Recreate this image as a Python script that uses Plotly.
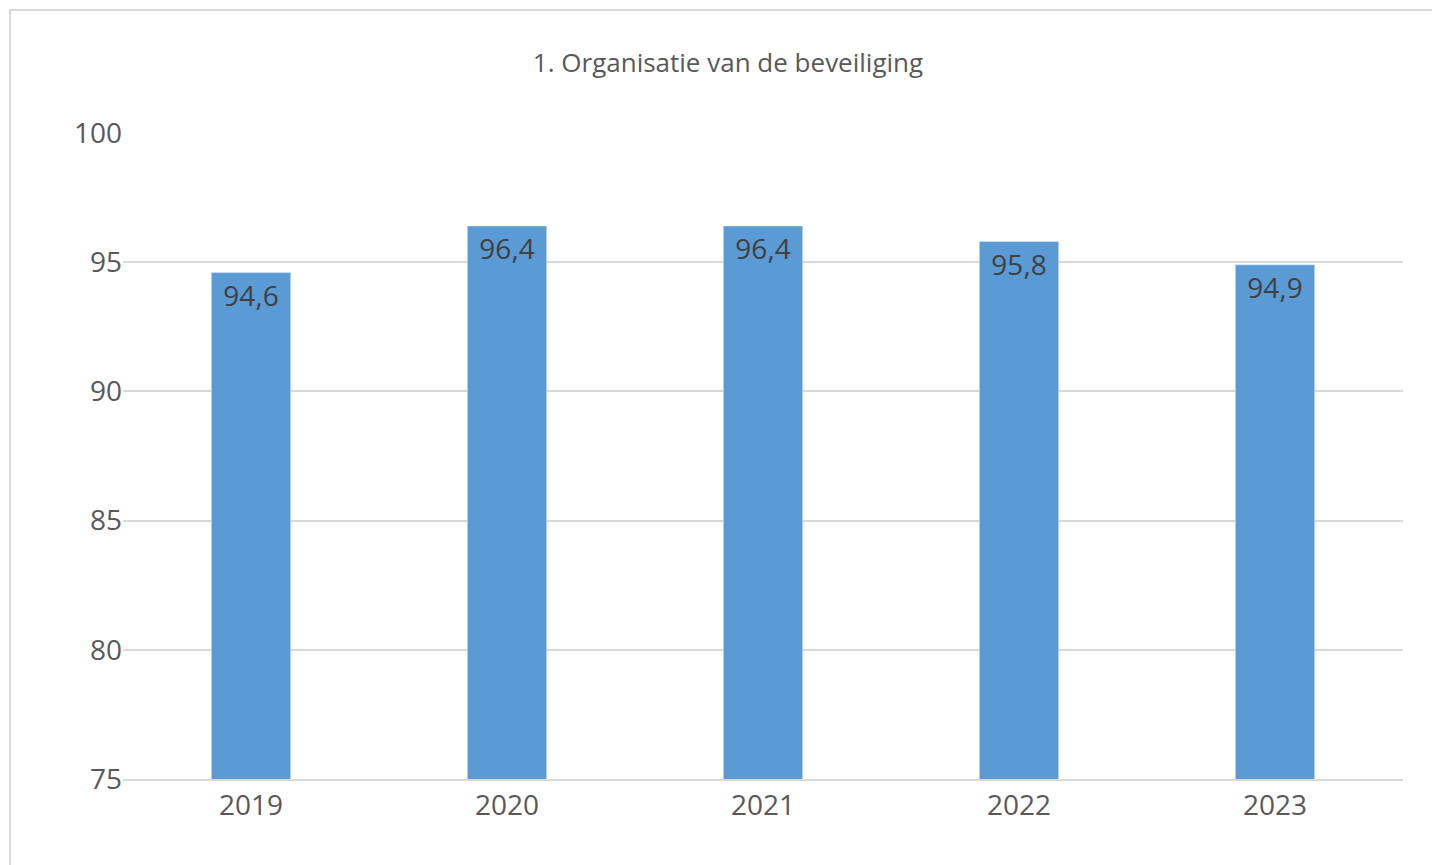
import plotly.graph_objects as go

years = ["2019", "2020", "2021", "2022", "2023"]
values = [94.6, 96.4, 96.4, 95.8, 94.9]
labels = ["94,6", "96,4", "96,4", "95,8", "94,9"]

fig = go.Figure(go.Bar(
    x=years, y=values, text=labels, textposition="inside", insidetextanchor="end",
    marker=dict(color="#5B9BD5"), width=0.31,
    textfont=dict(size=28, color="#404040"), cliponaxis=False,
))
L, R, T, B = 115, 45, 125, 94
pw, ph = 1440 - L - R, 865 - T - B
fig.update_layout(
    width=1440, height=865, margin=dict(l=L, r=R, t=T, b=B),
    paper_bgcolor="white", plot_bgcolor="white",
    font=dict(family="Open Sans, Liberation Sans", color="#595959"),
    title=dict(text="1. Organisatie van de beveiliging", x=0.5, xanchor="center",
               y=1 - 55 / 865, yanchor="middle", font=dict(size=26, color="#595959")),
    yaxis=dict(range=[75, 100], dtick=5, gridcolor="#D9D9D9", gridwidth=2,
               tickfont=dict(size=28, color="#595959"), ticklen=0, zeroline=False),
    xaxis=dict(tickfont=dict(size=28, color="#595959"), showline=True,
               linecolor="#D9D9D9", linewidth=2, ticks=""),
    shapes=[dict(type="rect", xref="paper", yref="paper",
                 x0=(2 - L) / pw, x1=(1438 - L) / pw,
                 y0=(771 - 863) / ph, y1=(771 - 2) / ph,
                 line=dict(color="#D9D9D9", width=2))],
)
fig.write_html("out.html")
